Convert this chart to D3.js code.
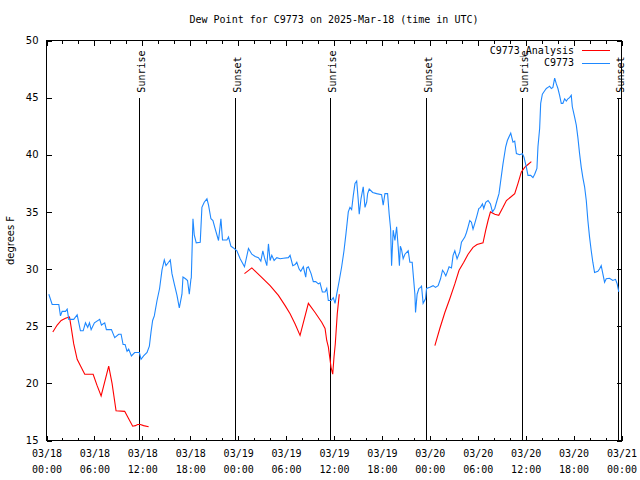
<!DOCTYPE html>
<html>
<head>
<meta charset="utf-8">
<script src="https://cdn.jsdelivr.net/npm/d3@7"></script>
<style>
  html, body { margin: 0; padding: 0; background: #fff; }
  svg { display: block; }
  .mono { font-family: "DejaVu Sans Mono", "Liberation Mono", monospace; font-size: 10px; }
  .sans { font-family: "DejaVu Sans", "Liberation Sans", sans-serif; font-size: 10px; }
</style>
</head>
<body>
<svg id="chart" width="640" height="480"></svg>
<script>
// ---------- DATA ----------
const chartTitle = "Dew Point for C9773 on 2025-Mar-18 (time in UTC)";
const yLabel = "degrees F";
const startTime = Date.UTC(2025, 2, 18, 0, 0);   // 03/18 00:00 UTC
const spanHours = 72;
const yTicks = [15, 20, 25, 30, 35, 40, 45, 50];
const majorTickHours = [0, 6, 12, 18, 24, 30, 36, 42, 48, 54, 60, 66, 72];
const minorTickHours = d3.range(0, 73, 2);
const seriesNames = ["C9773_Analysis", "C9773"];
const seriesColors = ["#ff0000", "#1e88ff"];

// observed (hours since 03/18 00:00 UTC, deg F)
const obsHours = [0.29,0.71,1.54,1.75,1.96,2.38,2.59,2.79,3.41,3.84,4.25,4.59,4.88,5.16,5.38,5.59,6.0,6.66,6.88,7.29,7.5,8.13,8.54,9.04,9.34,9.59,9.84,10.09,10.29,10.63,11.04,11.63,11.84,12.16,12.59,12.88,13.09,13.29,13.5,13.84,14.16,14.46,14.75,14.96,15.29,15.5,15.71,16.0,16.34,16.63,16.96,17.09,17.41,17.66,17.88,18.09,18.13,18.34,18.5,18.75,19.25,19.46,19.75,20.09,20.29,20.59,20.84,21.13,21.54,21.84,22.04,22.59,22.79,23.09,23.41,23.84,24.25,24.79,25.29,25.71,26.13,26.54,26.84,27.09,27.29,27.59,27.79,28.0,28.21,28.5,28.84,29.25,29.66,30.29,30.5,30.84,31.13,31.34,31.63,31.84,32.16,32.46,32.59,32.79,33.13,33.41,33.71,34.04,34.25,34.54,34.88,35.09,35.29,35.63,35.91,36.13,36.34,36.66,36.96,37.25,37.5,37.79,38.0,38.21,38.41,38.63,38.84,39.04,39.16,39.38,39.66,39.88,40.09,40.21,40.41,40.84,41.34,41.96,42.16,42.38,42.71,42.91,43.09,43.21,43.41,43.63,43.84,44.04,44.19,44.31,44.46,44.66,44.88,45.29,45.5,45.79,45.91,46.13,46.21,46.41,46.63,46.84,46.96,47.16,47.46,47.59,48.0,48.41,48.71,49.04,49.34,49.59,49.79,50.0,50.21,50.41,50.71,50.91,51.13,51.41,51.75,51.96,52.38,52.59,52.79,53.0,53.21,53.41,53.63,53.91,54.13,54.34,54.59,54.75,55.0,55.29,55.59,55.84,56.13,56.41,56.66,56.88,57.16,57.5,57.71,58.13,58.41,58.63,58.84,59.25,59.59,59.79,60.09,60.29,60.63,60.91,61.13,61.41,61.54,61.75,61.88,62.09,62.38,62.59,62.79,63.0,63.21,63.41,63.63,63.84,64.04,64.25,64.46,64.66,64.88,65.09,65.29,65.5,65.71,65.84,66.13,66.34,66.54,66.75,66.96,67.16,67.38,67.59,67.79,68.0,68.21,68.41,68.63,69.04,69.25,69.46,69.66,69.88,70.09,70.5,70.91,71.25,71.46,71.66];
const obsValues = [27.8,26.9,26.9,25.9,26.3,26.3,26.5,25.6,25.6,26.0,24.6,24.6,25.3,24.9,25.3,24.7,25.3,25.6,25.1,25.3,24.7,24.7,24.0,24.3,24.3,23.4,23.4,22.8,23.0,22.4,22.7,22.7,22.1,22.4,22.7,23.25,24.5,25.5,25.9,27.25,28.3,29.9,30.8,30.3,30.6,30.8,29.6,28.7,27.7,26.6,27.8,29.3,29.15,29.0,27.8,29.15,29.2,34.4,33.0,32.3,32.35,35.4,35.85,36.15,35.6,34.4,34.25,33.5,32.5,34.4,32.55,32.55,32.8,32.0,31.85,31.6,30.9,30.2,31.8,31.3,31.1,31.0,30.7,31.6,31.0,30.3,32.2,30.75,31.2,30.75,31.0,30.9,30.95,31.0,31.2,30.3,30.4,30.6,30.0,29.8,30.2,29.3,30.1,30.2,29.6,28.9,28.9,28.7,28.8,28.0,28.0,28.3,27.25,27.25,27.5,27.0,27.8,29.0,30.2,31.6,33.1,35.0,35.4,35.2,36.4,37.5,37.7,36.0,34.8,36.15,37.2,35.4,35.85,36.6,37.0,36.7,36.6,36.5,35.6,36.6,36.6,34.8,33.5,30.3,33.4,32.5,33.7,31.9,30.3,32.0,31.7,30.9,31.3,31.6,30.6,30.6,29.6,27.8,26.2,27.8,28.3,28.4,28.5,27.0,27.4,28.3,28.4,28.55,28.4,28.55,29.15,29.9,29.7,29.4,29.8,30.2,30.1,31.2,31.6,30.9,31.5,32.35,32.8,33.2,33.7,34.25,34.1,33.5,34.0,34.7,35.3,35.4,35.7,35.3,35.85,36.0,35.7,35.0,35.3,36.0,36.6,37.75,39.2,40.7,41.25,41.9,41.1,41.2,40.1,40.0,40.1,39.8,38.9,38.2,38.2,38.0,38.3,38.8,40.7,42.3,44.5,45.3,45.6,45.8,45.9,46.0,45.8,45.9,46.7,46.2,45.8,45.2,44.5,44.5,44.9,44.7,44.9,45.0,45.2,44.2,43.3,42.6,41.5,40.1,38.9,38.0,37.2,36.0,34.25,32.8,31.6,30.6,29.7,29.8,30.0,30.3,29.6,28.85,29.15,29.2,29.0,29.1,28.7,28.0];

// analysis segments (hours, deg F)
const anaHours1 = [0.79,1.34,1.84,2.38,2.88,3.09,3.41,3.84,4.25,4.79,5.84,6.34,6.84,7.79,8.21,8.71,9.79,10.29,10.79,11.13,11.41,11.75,12.16,12.79];
const anaValues1 = [24.5,25.1,25.5,25.7,25.8,24.9,23.45,22.1,21.55,20.8,20.8,19.8,18.9,21.5,20.0,17.6,17.55,16.9,16.25,16.3,16.4,16.4,16.3,16.2];
const anaHours2 = [24.79,25.71,26.75,28.0,29.04,29.88,30.5,31.13,31.75,32.79,33.63,34.46,34.88,35.09,35.29,35.5,35.63,35.84,36.0,36.16,36.41,36.66];
const anaValues2 = [29.6,30.1,29.4,28.55,27.7,26.8,26.1,25.2,24.2,27.0,26.2,25.35,24.8,23.75,23.2,22.1,21.4,20.8,22.3,23.45,26.1,27.8];
const anaHours3 = [48.63,49.25,49.88,50.5,51.13,51.66,52.25,52.79,53.41,53.91,54.66,55.0,55.29,55.59,56.13,56.63,57.16,57.59,58.21,58.63,59.04,59.46,59.88,60.29,60.71];
const anaValues3 = [23.3,24.8,26.2,27.4,28.7,29.9,30.6,31.3,31.9,32.15,32.3,33.4,34.25,35.0,34.8,34.7,35.4,36.0,36.35,36.6,37.5,38.5,38.9,39.15,39.4];

// sun events
const eventHours = [11.6, 23.55, 35.5, 47.5, 59.5, 71.5];
const eventLabels = ["Sunrise", "Sunset", "Sunrise", "Sunset", "Sunrise", "Sunset"];
const eventTopValue = 45;

// ---------- DRAW ----------
const svg = d3.select("#chart");
const pLeft = 46.5, pRight = 621.5, pTop = 40.5, pBottom = 440.5;
const toDate = h => new Date(startTime + h * 3600e3);

const x = d3.scaleUtc().domain([toDate(0), toDate(spanHours)]).range([pLeft, pRight]);
const y = d3.scaleLinear().domain([15, 50]).range([pBottom, pTop]);

const fmt = d3.utcFormat("%m/%d %H:%M");

const minorDates = minorTickHours.map(toDate);
const majorDates = majorTickHours.map(toDate);

function styleAxis(g) {
  g.select(".domain").remove();
  g.selectAll("line").attr("stroke", "#000").attr("shape-rendering", "crispEdges");
}

svg.append("g").attr("transform", `translate(0,${pBottom})`)
  .call(d3.axisBottom(x).tickValues(minorDates).tickSize(-3).tickFormat(""))
  .call(styleAxis);
svg.append("g").attr("transform", `translate(0,${pTop})`)
  .call(d3.axisTop(x).tickValues(minorDates).tickSize(-3).tickFormat(""))
  .call(styleAxis);
svg.append("g").attr("transform", `translate(0,${pTop})`)
  .call(d3.axisTop(x).tickValues(majorDates).tickSize(-5).tickFormat(""))
  .call(styleAxis);

const xAxisG = svg.append("g").attr("transform", `translate(0,${pBottom})`)
  .call(d3.axisBottom(x).tickValues(majorDates).tickSize(-5).tickPadding(0).tickFormat(fmt))
  .call(styleAxis);
xAxisG.attr("font-size", null).attr("font-family", null);
xAxisG.selectAll("text").each(function(d) {
  const parts = fmt(d).split(" ");
  const t = d3.select(this).text(null)
    .attr("class", "mono").attr("fill", "#000").attr("y", 0).attr("dy", null);
  t.append("tspan").attr("x", 0).attr("y", 16.5).text(parts[0]);
  t.append("tspan").attr("x", 0).attr("y", 32.5).text(parts[1]);
});

// y axes
const yAxisG = svg.append("g").attr("transform", `translate(${pLeft},0)`)
  .call(d3.axisLeft(y).tickValues(yTicks).tickSize(-5).tickPadding(8).tickFormat(d3.format("d")))
  .call(styleAxis);
yAxisG.attr("font-size", null).attr("font-family", null);
yAxisG.selectAll("text").attr("class", "sans").attr("fill", "#000");
svg.append("g").attr("transform", `translate(${pRight},0)`)
  .call(d3.axisRight(y).tickValues(yTicks).tickSize(-5).tickFormat(""))
  .call(styleAxis);

// frame
svg.append("rect").attr("x", pLeft).attr("y", pTop).attr("width", pRight - pLeft).attr("height", pBottom - pTop)
  .attr("fill", "none").attr("stroke", "#000").attr("shape-rendering", "crispEdges");

// event lines
const evG = svg.append("g");
eventHours.forEach((h, i) => {
  const ex = Math.round(x(toDate(h))) + 0.5;
  evG.append("line").attr("x1", ex).attr("x2", ex).attr("y1", y(eventTopValue)).attr("y2", pBottom)
    .attr("stroke", "#000").attr("shape-rendering", "crispEdges");
  evG.append("text").attr("class", "mono").attr("fill", "#000")
    .attr("transform", `translate(${ex + 5},${y(eventTopValue) - 5}) rotate(-90)`)
    .attr("text-anchor", "start").text(eventLabels[i]);
});

// lines
const line = d3.line().x(d => x(toDate(d[0]))).y(d => y(d[1]));
const zip = (a, b) => a.map((h, i) => [h, b[i]]);

[[anaHours1, anaValues1], [anaHours2, anaValues2], [anaHours3, anaValues3]].forEach(([h, v]) => {
  svg.append("path").datum(zip(h, v)).attr("d", line)
    .attr("fill", "none").attr("stroke", seriesColors[0]).attr("stroke-width", 1.1);
});
svg.append("path").datum(zip(obsHours, obsValues)).attr("d", line)
  .attr("fill", "none").attr("stroke", seriesColors[1]).attr("stroke-width", 1.1);

// legend
seriesNames.forEach((name, i) => {
  const ly = 50 + i * 12.5;
  svg.append("text").attr("class", "mono").attr("fill", "#000")
    .attr("x", 574).attr("y", ly).attr("dy", "0.35em").attr("text-anchor", "end").text(name);
  svg.append("line").attr("x1", 582).attr("x2", 610).attr("y1", Math.round(ly) + 0.5).attr("y2", Math.round(ly) + 0.5)
    .attr("stroke", seriesColors[i]).attr("shape-rendering", "crispEdges");
});

// title and y label
svg.append("text").attr("class", "mono").attr("fill", "#000")
  .attr("x", (pLeft + pRight) / 2).attr("y", 23).attr("text-anchor", "middle").text(chartTitle);
svg.append("text").attr("class", "sans").attr("fill", "#000")
  .attr("transform", `translate(14,${(pTop + pBottom) / 2}) rotate(-90)`)
  .attr("text-anchor", "middle").text(yLabel);
</script>
</body>
</html>
